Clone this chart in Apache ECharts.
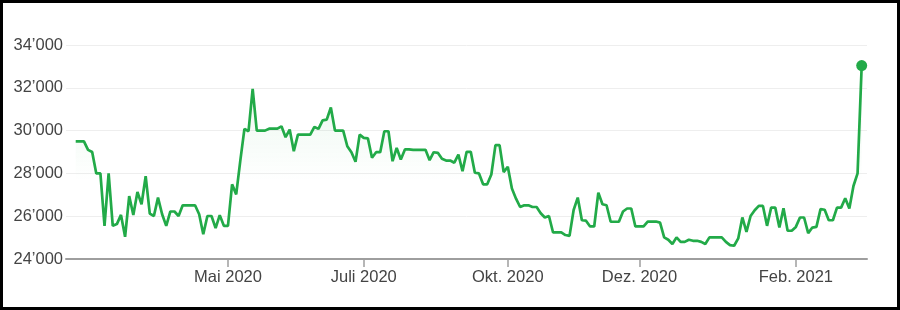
<!DOCTYPE html>
<html>
<head>
<meta charset="utf-8">
<script src="https://cdn.jsdelivr.net/npm/echarts@6/dist/echarts.min.js"></script>
<style>
  html, body { margin: 0; padding: 0; background: #fff; }
  #chart { width: 900px; height: 310px; }
  #frame { position: absolute; left: 0; top: 0; width: 900px; height: 310px;
           box-sizing: border-box; border: 3px solid #000; pointer-events: none; }
</style>
</head>
<body>
<div id="chart"></div>
<div id="frame"></div>
<script>
// daily closing values
const prices = [
  29500, 29500, 29500, 29100, 29000, 28000, 28000, 25550, 28000, 25550,
  25630, 26060, 25040, 26940, 26060, 27130, 26560, 27870, 26120, 26010,
  26870, 26090, 25550, 26220, 26220, 26010, 26510, 26510, 26510, 26510,
  26090, 25160, 26010, 26010, 25440, 26050, 25550, 25550, 27490, 27020,
  28600, 30080, 29970, 31950, 30000, 30000, 30000, 30090, 30090, 30090,
  30200, 29690, 30050, 29040, 29810, 29810, 29810, 29810, 30170, 30080,
  30480, 30510, 31080, 30000, 30000, 30000, 29270, 28990, 28540, 29810,
  29660, 29640, 28730, 28990, 28990, 29970, 29970, 28570, 29190, 28650,
  29120, 29120, 29100, 29100, 29100, 29100, 28620, 28990, 28960, 28680,
  28600, 28600, 28500, 28880, 28100, 29010, 29010, 28030, 28000, 27490,
  27490, 27950, 29320, 29320, 28060, 28310, 27290, 26820, 26430, 26510,
  26510, 26430, 26430, 26140, 25940, 26010, 25240, 25240, 25240, 25120,
  25080, 26290, 26870, 25810, 25790, 25520, 25520, 27100, 26560, 26510,
  25740, 25740, 25740, 26220, 26360, 26360, 25520, 25520, 25520, 25750,
  25750, 25750, 25700, 25010, 24900, 24700, 25010, 24800, 24800, 24900,
  24850, 24850, 24800, 24700, 25010, 25010, 25010, 25010, 24800, 24650,
  24620, 24960, 25940, 25270, 26010, 26280, 26480, 26480, 25550, 26400,
  26400, 25470, 26370, 25320, 25320, 25500, 25940, 25940, 25210, 25470,
  25500, 26330, 26300, 25810, 25810, 26400, 26400, 26840, 26360, 27410,
  28000, 33040
];
const tickIdx = [37, 70, 105, 137, 175];
const tickLabels = ['Mai 2020', 'Juli 2020', 'Okt. 2020', 'Dez. 2020', 'Feb. 2021'];
const yMin = 24000, yMax = 34000, yStep = 2000;

const green = '#22aa48';
const font = "'Liberation Sans', Arial, sans-serif";

const linePts = prices.map((v, i) => [i, v]);
const last = prices.length - 1;

const chart = echarts.init(document.getElementById('chart'));
chart.setOption({
  animation: false,
  grid: { left: 66, right: 33, top: 45, bottom: 51 },
  xAxis: {
    type: 'value',
    min: -2.36,
    max: last + 1.29,
    splitLine: { show: false },
    axisLine: { lineStyle: { color: '#9e9e9e', width: 2 } },
    axisTick: { show: true, length: 8, customValues: tickIdx,
                lineStyle: { color: '#9e9e9e', width: 1.5 } },
    axisLabel: {
      customValues: tickIdx,
      margin: 10,
      color: '#444',
      fontSize: 16.5,
      fontFamily: font,
      formatter: v => tickLabels[tickIdx.indexOf(Math.round(v))] || ''
    }
  },
  yAxis: {
    type: 'value',
    min: yMin,
    max: yMax,
    interval: yStep,
    axisLine: { show: false },
    axisTick: { show: false },
    splitLine: { lineStyle: { color: '#eeeeee', width: 1 } },
    axisLabel: {
      margin: 3,
      color: '#444',
      fontSize: 16.5,
      fontFamily: font,
      formatter: v => String(v).replace(/\B(?=(\d{3})+(?!\d))/g, '\u2019')
    }
  },
  series: [
    {
      type: 'line',
      data: linePts,
      showSymbol: false,
      lineStyle: { color: green, width: 2.7 },
      areaStyle: {
        color: new echarts.graphic.LinearGradient(0, 0, 0, 1, [
          { offset: 0, color: 'rgba(34,170,72,0.15)' },
          { offset: 0.6, color: 'rgba(34,170,72,0)' }
        ])
      }
    },
    {
      type: 'scatter',
      data: [[last, prices[last]]],
      symbolSize: 11,
      itemStyle: { color: green, opacity: 1 },
      z: 5
    }
  ]
});
</script>
</body>
</html>
